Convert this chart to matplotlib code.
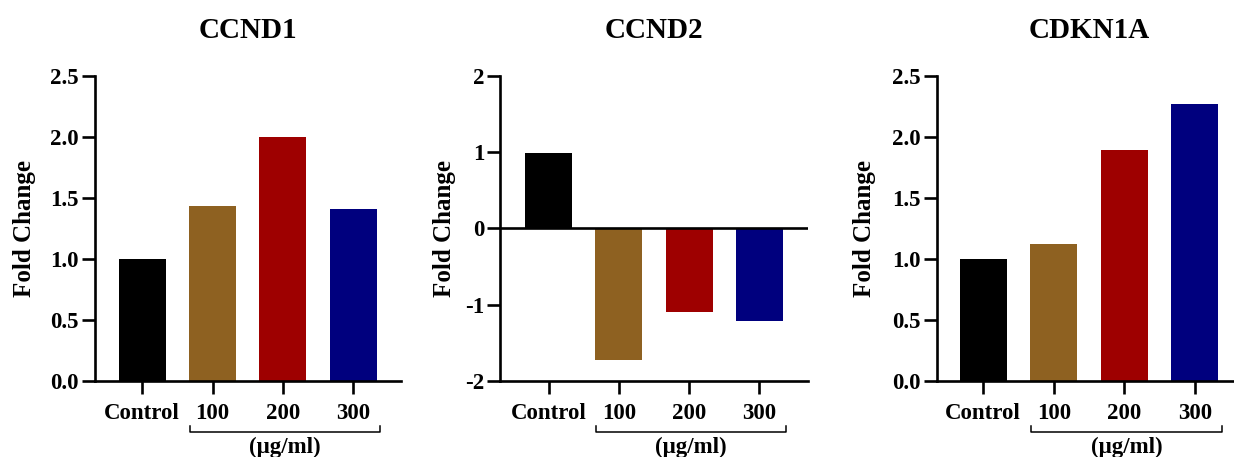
import matplotlib
matplotlib.use("Agg")
import matplotlib.pyplot as plt
import matplotlib.transforms as mtransforms

plt.rcParams["font.family"] = ["Liberation Serif", "DejaVu Serif"]
plt.rcParams["font.weight"] = "bold"
plt.rcParams["axes.unicode_minus"] = False

# data
groups = ["Control", "100", "200", "300"]
bar_colors = ["#000000", "#8E6121", "#9E0000", "#00007E"]
unit_label = "(\u03bcg/ml)"

genes = ["CCND1", "CCND2", "CDKN1A"]
ccnd1 = [1.00, 1.43, 2.00, 1.41]
ccnd2 = [0.99, -1.72, -1.10, -1.21]
cdkn1a = [1.00, 1.12, 1.89, 2.27]
values = [ccnd1, ccnd2, cdkn1a]

ylims = [(0, 2.5), (-2, 2), (0, 2.5)]
yticks = [[0, 0.5, 1.0, 1.5, 2.0, 2.5], [-2, -1, 0, 1, 2], [0, 0.5, 1.0, 1.5, 2.0, 2.5]]
ytick_fmt = ["{:.1f}", "{:.0f}", "{:.1f}"]

W, H = 1234, 457
fig = plt.figure(figsize=(W / 100, H / 100), dpi=100)

# axes boxes in pixels: left, right edge of x range, top, bottom
boxes = [(95, 400.5), (500, 808), (936.7, 1242.7)]
xlims = [(-0.67, 3.67), (-0.69, 3.69), (-0.66, 3.68)]
ylab_off = [70, 55, 72]
top_px, bot_px = 75.7, 381
lw = 1.9

for i in range(3):
    l, r = boxes[i]
    ax = fig.add_axes([l / W, (H - bot_px) / H, (r - l) / W, (bot_px - top_px) / H])
    x = range(len(groups))
    ax.bar(x, values[i], width=0.667, color=bar_colors, edgecolor="none", zorder=2)
    ax.set_xlim(*xlims[i])
    ax.set_ylim(*ylims[i])
    ax.set_yticks(yticks[i])
    ax.set_yticklabels([ytick_fmt[i].format(v) for v in yticks[i]])
    ax.set_xticks(list(x))
    ax.set_xticklabels(groups)
    for s in ["top", "right"]:
        ax.spines[s].set_visible(False)
    for s in ["left", "bottom"]:
        ax.spines[s].set_linewidth(lw)
    ax.tick_params(axis="both", width=lw, length=9.5, labelsize=16.5, color="black")
    ax.tick_params(axis="y", pad=2)
    ax.tick_params(axis="x", pad=6)
    if ylims[i][0] < 0:
        ax.axhline(0, color="black", lw=lw, zorder=3)

    ax_h = bot_px - top_px
    ax.text(0.5, 1 + 45.7 / ax_h, genes[i], transform=ax.transAxes,
            ha="center", va="center", fontsize=21, fontweight="bold")
    ax_w = r - l
    ax.text(-ylab_off[i] / ax_w, 0.5, "Fold Change", transform=ax.transAxes,
            rotation=90, ha="center", va="center", fontsize=18, fontweight="bold")

    # bracket under the dose groups
    trans = mtransforms.blended_transform_factory(ax.transData, ax.transAxes)
    y0 = -50.7 / ax_h
    y1 = -44.5 / ax_h
    xa, xb = 0.68, 3.38
    ax.plot([xa, xa, xb, xb], [y1, y0, y0, y1], color="black", lw=1.1,
            transform=trans, clip_on=False)
    ax.text((xa + xb) / 2, -66 / ax_h, unit_label, transform=trans,
            ha="center", va="center", fontsize=16.5, fontweight="bold")

fig.savefig("out.png", dpi=100)
